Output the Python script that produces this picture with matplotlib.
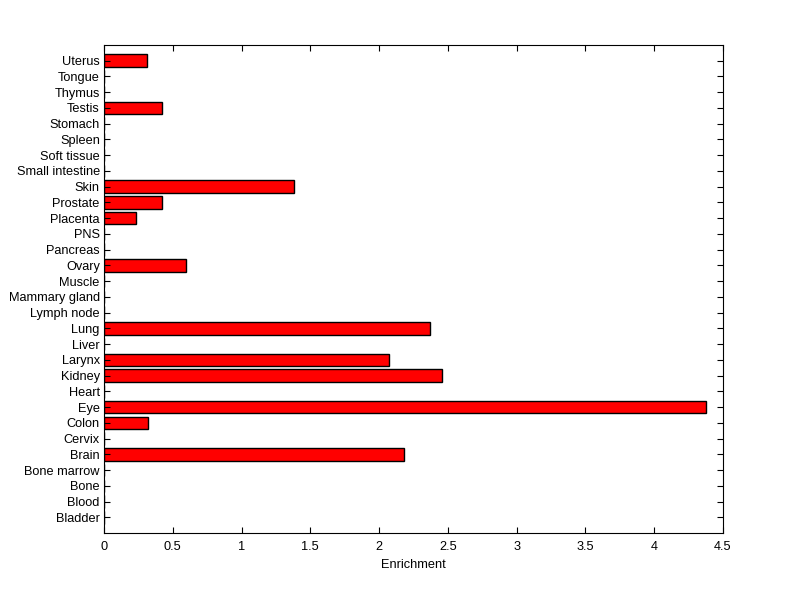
import matplotlib
matplotlib.use("Agg")
import matplotlib.pyplot as plt
import numpy as np

# tissues from bottom to top, as plotted
TISSUES = ["Bladder", "Blood", "Bone", "Bone marrow", "Brain", "Cervix", "Colon",
           "Eye", "Heart", "Kidney", "Larynx", "Liver", "Lung", "Lymph node",
           "Mammary gland", "Muscle", "Ovary", "Pancreas", "PNS", "Placenta",
           "Prostate", "Skin", "Small intestine", "Soft tissue", "Spleen",
           "Stomach", "Testis", "Thymus", "Tongue", "Uterus"]
ENRICHMENT = [0, 0, 0, 0, 2.18, 0, 0.32,
              4.38, 0, 2.46, 2.07, 0, 2.37, 0,
              0, 0, 0.595, 0, 0, 0.235,
              0.425, 1.38, 0, 0, 0,
              0, 0.42, 0, 0, 0.315]
XTICKS = [0, 0.5, 1, 1.5, 2, 2.5, 3, 3.5, 4, 4.5]

plt.rcParams["font.family"] = ["Liberation Sans", "DejaVu Sans"]

fig = plt.figure(figsize=(8, 5.99), dpi=100)
ax = fig.add_axes([0.13, 0.11, 0.77375, 0.815])

pos = np.arange(1, len(TISSUES) + 1)
ax.barh(pos, ENRICHMENT, height=0.8, color="#ff0000", edgecolor="black", linewidth=1)

ax.set_ylim(0, len(TISSUES) + 1)
ax.set_xlim(0, 4.5)
ax.set_yticks(pos)
ax.set_yticklabels(TISSUES, fontsize=9.2)
ax.set_xticks(XTICKS)
ax.set_xticklabels([f"{t:g}" for t in XTICKS], fontsize=9.2)
ax.tick_params(direction="in", length=4.5, width=0.8, top=True, right=True)
ax.tick_params(axis="x", pad=6)
ax.tick_params(axis="y", pad=3)
for s in ax.spines.values():
    s.set_linewidth(0.8)
ax.set_xlabel("Enrichment", fontsize=9.2, labelpad=4)

fig.savefig("out.png", dpi=100, facecolor="white")
